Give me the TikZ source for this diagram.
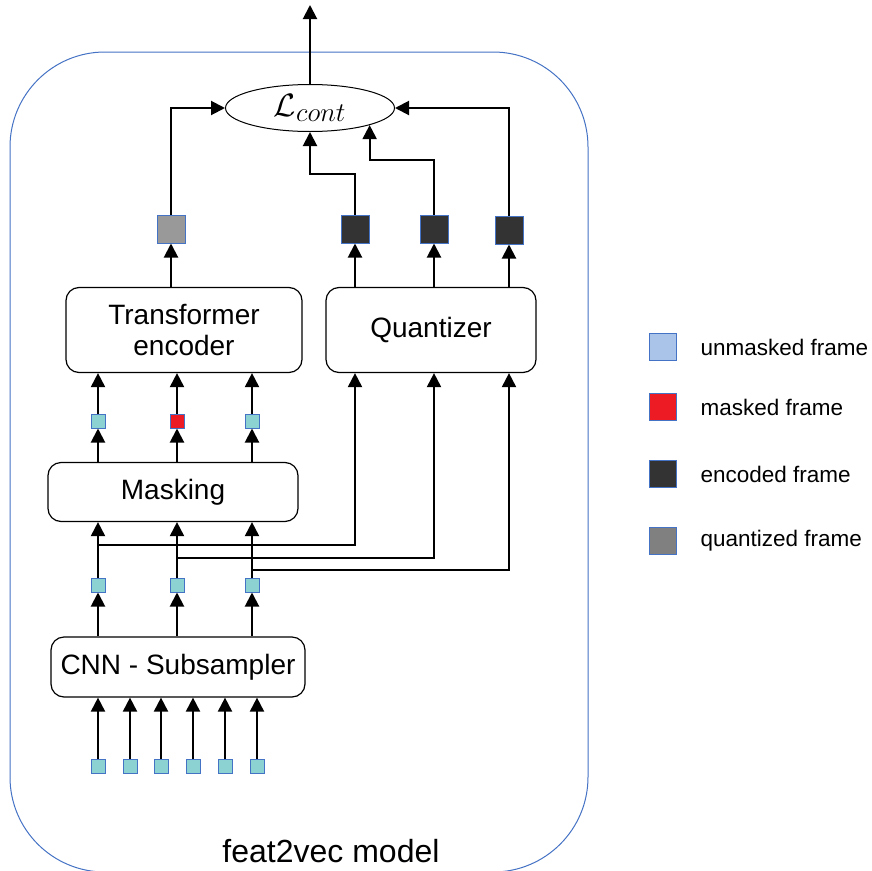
\documentclass[tikz,border=0pt]{standalone}
\usepackage{amsmath,amssymb}
\usepackage{graphicx}
\usepackage{fontspec}
\setmainfont{Liberation Sans}
\usepackage{tikz}
\usetikzlibrary{positioning,arrows.meta,shapes.geometric}
\usepackage{xcolor}
\definecolor{frmfill}{RGB}{140,210,210}
\definecolor{frmline}{RGB}{68,114,196}
\definecolor{mred}{RGB}{237,28,36}
\definecolor{enc}{RGB}{51,51,51}
\definecolor{qgray}{RGB}{153,153,153}
\definecolor{lgray}{RGB}{128,128,128}
\definecolor{lblue}{RGB}{169,196,232}

\begin{document}
\begin{tikzpicture}[x=1pt,y=-1pt,>={Triangle[length=14pt,width=14pt]},
  box/.style={draw,line width=1.2pt,rounded corners=13pt,align=center,inner sep=0pt,font=\fontsize{28}{32}\selectfont},
  frm/.style={draw=frmline,line width=1pt,fill=frmfill,minimum size=14pt,inner sep=0pt},
  big/.style={draw=frmline,line width=1pt,minimum size=28pt,inner sep=0pt},
  leg/.style={draw=frmline,line width=1pt,minimum size=27pt,inner sep=0pt},
  lbl/.style={font=\fontsize{22.5}{26}\selectfont},
  wire/.style={line width=2pt}]
\useasboundingbox (0,0) rectangle (872,870);
\draw[frmline,line width=1pt,rounded corners=95pt] (10,52) rectangle (588,872);

% loss
\node[draw,ellipse,line width=1pt,minimum width=169pt,minimum height=47pt,inner sep=0pt,font=\fontsize{24.88}{28}\selectfont] (loss) at (310,108) {\scalebox{1.3}{$\mathcal{L}_{cont}$}};
\coordinate (out) at (310,5);

% output frames
\node[big,fill=qgray] (g) at (171,229) {};
\node[big,fill=enc] (d1) at (355,229) {};
\node[big,fill=enc] (d2) at (434,229) {};
\node[big,fill=enc] (d3) at (509,230) {};

% blocks
\node[box,minimum width=236pt,minimum height=85pt] (tr) at (184,330) {Transformer\\encoder};
\node[box,minimum width=210pt,minimum height=85pt] (qz) at (431,330) {Quantizer};
\node[box,minimum width=250pt,minimum height=59pt] (mask) at (173,492) {Masking};
\node[box,minimum width=254pt,minimum height=60pt] (cnn) at (178,667) {CNN - Subsampler};

% frames
\foreach \n/\x/\c in {1/98/frmfill,2/177/mred,3/252/frmfill}
  \node[frm,fill=\c] (a\n) at (\x,421) {};
\foreach \n/\x in {1/98,2/177,3/252}
  \node[frm] (m\n) at (\x,585) {};
\foreach \n/\x in {1/98,2/130,3/161,4/193,5/225,6/257}
  \node[frm] (b\n) at (\x,766) {};
\coordinate (j1) at (98,545);
\coordinate (j2) at (177,558);
\coordinate (j3) at (252,570);

% connections
\foreach \i in {1,...,6}
  \draw[wire,->] (b\i) -- (b\i |- cnn.south);
\foreach \i in {1,2,3} {
  \draw[wire,->] (m\i |- cnn.north) -- (m\i);
  \draw[wire,->] (m\i) -- (m\i |- mask.south);
  \draw[wire,->] (a\i |- mask.north) -- (a\i);
  \draw[wire,->] (a\i) -- (a\i |- tr.south);
  \draw[wire,->] (j\i) -| (d\i |- qz.south);
  \draw[wire,->] (d\i |- qz.north) -- (d\i);
}
\draw[wire,->] (g |- tr.north) -- (g);
\draw[wire,->] (g) |- (loss.west);
\draw[wire,->] (d3) |- (loss.east);
\draw[wire,->] (d1.north) -- ++(0,-41) -| (loss.south);
\draw[wire,->] (d2.north) -- ++(0,-55) -| (loss.-16);
\draw[wire,->] (loss.north) -- (loss.north |- out);

% legend
\node[leg,fill=lblue] (l1) at (663,347) {};
\node[leg,fill=mred] (l2) at (663,407) {};
\node[leg,fill=enc] (l3) at (663,474) {};
\node[leg,fill=lgray] (l4) at (663,541) {};
\node[lbl,right=20pt of l1] (t1) {unmasked frame};
\node[lbl,right=20pt of l2] (t2) {masked frame};
\node[lbl,right=20pt of l3] (t3) {encoded frame};
\node[lbl,right=20pt of l4] (t4) {quantized frame};

\node[font=\fontsize{32}{36}\selectfont] (mdl) at (331,851) {feat2vec model};
\end{tikzpicture}
\end{document}
